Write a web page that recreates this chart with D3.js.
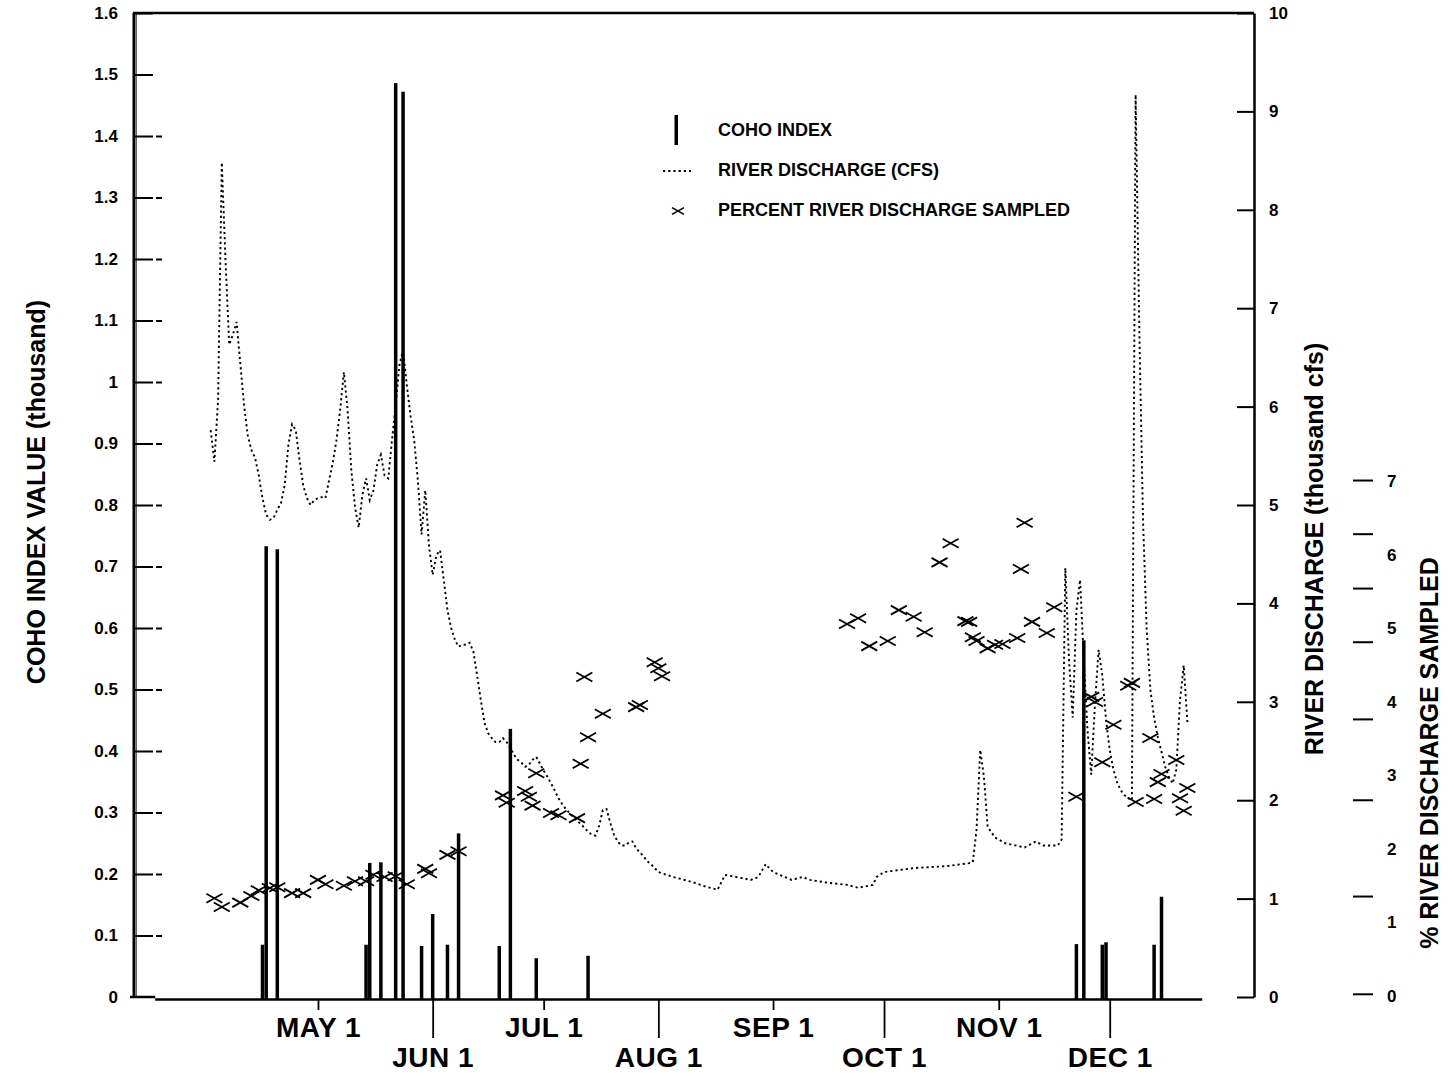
<!DOCTYPE html>
<html>
<head>
<meta charset="utf-8">
<script src="https://cdn.jsdelivr.net/npm/d3@7"></script>
<style>
  body { margin: 0; background: #fff; }
  svg { display: block; }
  text { font-family: "Liberation Sans", Arial, Helvetica, sans-serif; fill: #000; }
</style>
</head>
<body>
<svg id="chart" width="1454" height="1074"></svg>
<script>
// ---- data ----------------------------------------------------------------
// Coho index (thousand), one bar per sampling date (month-day)
const cohoDates = ["04-16","04-17","04-20","05-14","05-15","05-18","05-22","05-24","05-29","06-01",
  "06-05","06-08","06-19","06-22","06-29","07-13","11-22","11-24","11-29","11-30","12-13","12-15"];
const cohoValues = [0.085,0.733,0.728,0.085,0.218,0.219,1.486,1.472,0.083,0.135,
  0.085,0.266,0.083,0.436,0.063,0.067,0.086,0.58,0.085,0.089,0.085,0.163];

// River discharge (thousand cfs)
const flowDates = [
  "04-02","04-03","04-04","04-05","04-06","04-07","04-08","04-09","04-10","04-11","04-12","04-13","04-14","04-15",
  "04-16","04-17","04-18","04-19","04-20","04-21","04-22","04-23","04-24","04-25","04-26","04-27","04-28","04-29","04-30",
  "05-01","05-02","05-03","05-04","05-05","05-06","05-07","05-08","05-09","05-10","05-11","05-12","05-13","05-14","05-15",
  "05-16","05-17","05-18","05-19","05-20","05-21","05-22","05-23","05-24","05-25","05-26","05-27","05-28","05-29","05-30","05-31",
  "06-01","06-02","06-03","06-04","06-05","06-06","06-07","06-08","06-09","06-10","06-11","06-12","06-13","06-14","06-15",
  "06-16","06-17","06-18","06-19","06-20","06-21","06-22","06-23","06-24","06-25","06-26","06-27","06-28","06-29","06-30",
  "07-01","07-02","07-03","07-04","07-05","07-06","07-07","07-08","07-09","07-10","07-11","07-12","07-13","07-14","07-15",
  "07-16","07-17","07-18","07-19","07-20","07-21","07-22","07-23","07-24","07-25","07-26","07-27","07-28","07-29","07-30","07-31",
  "08-01","08-05","08-10","08-14","08-17","08-19","08-22","08-26","08-28","08-30",
  "09-01","09-06","09-09","09-11","09-16","09-21","09-24","09-28","09-29",
  "10-01","10-05","10-09","10-18","10-24","10-25","10-26","10-27","10-28","10-29","10-31",
  "11-03","11-08","11-11","11-13","11-17","11-18","11-19","11-20","11-21","11-22","11-23","11-24","11-25","11-26",
  "11-27","11-28","11-29","11-30","12-01","12-02","12-03","12-04","12-05","12-06","12-07","12-08","12-09","12-10",
  "12-11","12-12","12-13","12-14","12-15","12-16","12-17","12-18","12-19","12-20","12-21","12-22"];
const flowValues = [
  5.76,5.44,6.07,8.48,7.49,6.63,6.73,6.86,6.44,6.02,5.71,5.56,5.48,5.30,
  5.07,4.90,4.85,4.87,4.95,5.02,5.20,5.61,5.82,5.76,5.46,5.20,5.07,5.00,5.05,
  5.07,5.08,5.07,5.25,5.43,5.66,5.97,6.35,5.97,5.36,4.98,4.77,5.10,5.27,5.05,
  5.15,5.41,5.51,5.30,5.27,5.66,6.02,6.42,6.58,6.22,5.91,5.66,5.25,4.70,5.15,4.59,
  4.29,4.49,4.54,4.24,3.93,3.75,3.63,3.56,3.58,3.58,3.60,3.51,3.27,3.02,2.79,
  2.68,2.63,2.59,2.59,2.63,2.59,2.53,2.46,2.41,2.38,2.34,2.36,2.41,2.44,2.37,
  2.30,2.24,2.17,2.10,2.02,1.96,1.91,1.87,1.83,1.79,1.76,1.72,1.68,1.65,1.64,
  1.74,1.90,1.91,1.77,1.65,1.58,1.54,1.54,1.57,1.58,1.51,1.47,1.43,1.38,1.35,1.31,
  1.27,1.22,1.17,1.12,1.09,1.24,1.22,1.19,1.22,1.35,
  1.27,1.19,1.22,1.19,1.16,1.14,1.11,1.14,1.22,
  1.27,1.29,1.31,1.33,1.36,1.37,1.70,2.51,2.24,1.73,1.62,
  1.56,1.52,1.58,1.54,1.54,1.60,4.36,3.42,2.84,3.93,4.24,3.42,2.71,2.26,
  2.97,3.53,3.27,2.82,2.51,2.31,2.18,2.10,2.05,2.02,2.00,9.17,6.78,4.85,
  3.73,3.12,2.84,2.64,2.49,2.34,2.24,2.17,2.31,3.02,3.37,2.79];

// Percent of river discharge sampled
const sampledDates = [
  "04-03","04-05","04-10","04-13","04-15","04-18","04-20","04-24","04-27","05-01","05-03","05-08","05-11","05-14",
  "05-16","05-19","05-22","05-25","05-30","05-31","06-05","06-08","06-20","06-21","06-26","06-27","06-28","06-29",
  "07-03","07-05","07-10","07-11","07-12","07-13","07-17","07-26","07-27","07-31","08-01","08-02",
  "09-21","09-24","09-27","10-02","10-05","10-09","10-12","10-16","10-19","10-23","10-24","10-25","10-26","10-29",
  "10-31","11-02","11-06","11-07","11-08","11-10","11-14","11-16",
  "11-22","11-26","11-27","11-29","12-02","12-06","12-07","12-08","12-12","12-13","12-14","12-15","12-19","12-20",
  "12-21","12-22"];
const sampledValues = [
  1.33,1.21,1.27,1.36,1.44,1.47,1.48,1.40,1.40,1.58,1.52,1.50,1.56,1.56,
  1.65,1.62,1.63,1.52,1.73,1.67,1.92,1.97,2.73,2.63,2.79,2.71,2.59,3.03,
  2.49,2.46,2.42,3.16,4.34,3.52,3.84,3.93,3.96,4.54,4.46,4.35,
  5.06,5.14,4.76,4.83,5.25,5.16,4.95,5.90,6.16,5.10,5.09,4.88,4.83,4.73,
  4.78,4.79,4.87,5.81,6.44,5.09,4.94,5.29,
  2.71,4.07,4.00,3.18,3.69,4.22,4.26,2.64,3.51,2.68,2.91,3.02,3.21,2.69,
  2.52,2.83];

// Axis ticks and labels
const monthTickDates = ["05-01","06-01","07-01","08-01","09-01","10-01","11-01","12-01"];
const monthTickLabels = ["MAY 1","JUN 1","JUL 1","AUG 1","SEP 1","OCT 1","NOV 1","DEC 1"];
const cohoTicks = [0,0.1,0.2,0.3,0.4,0.5,0.6,0.7,0.8,0.9,1,1.1,1.2,1.3,1.4,1.5,1.6];
const flowTicks = [0,1,2,3,4,5,6,7,8,9,10];
const pctLabelValues = [0,1,2,3,4,5,6,7];
const pctTickMarks = [0.03,1.36,2.67,3.77,4.82,5.55,6.29,7.02];
const timeStart = "1990-03-12", timeEnd = "1991-01-09";
const baselineStart = "03-18", baselineEnd = "12-26";

// ---- scales ----------------------------------------------------------------
const parseFull = d3.timeParse("%Y-%m-%d");
const md = s => parseFull("1990-" + s);

const svg = d3.select("#chart");
const x = d3.scaleTime().domain([parseFull(timeStart), parseFull(timeEnd)]).range([133, 1254]);
const yCoho = d3.scaleLinear().domain([0, 1.6]).range([997, 13]);
const yFlow = d3.scaleLinear().domain([0, 10]).range([997, 13]);
const yPct = d3.scaleLinear().domain([0, 7]).range([996, 481.5]);

const ink = "#000";
const labelFont = "'Liberation Sans', Arial, sans-serif";

// ---- frame ---------------------------------------------------------------
const frame = svg.append("g").attr("stroke", ink).attr("fill", "none");
frame.append("line").attr("x1", 134).attr("x2", 134).attr("y1", yCoho(1.6)).attr("y2", yCoho(0)).attr("stroke-width", 3);
frame.append("line").attr("x1", 136.5).attr("x2", 136.5).attr("y1", yCoho(1.6)).attr("y2", yCoho(0)).attr("stroke-width", 1).attr("stroke", "#666");
frame.append("line").attr("x1", 133).attr("x2", 1254).attr("y1", yCoho(1.6)).attr("y2", yCoho(1.6)).attr("stroke-width", 2.5);
frame.append("line").attr("x1", 130).attr("x2", x(md(baselineStart))).attr("y1", yCoho(0)).attr("y2", yCoho(0)).attr("stroke-width", 2.5);
frame.append("line").attr("x1", x(md(baselineStart))).attr("x2", x(md(baselineEnd))).attr("y1", 999.5).attr("y2", 999.5).attr("stroke-width", 2.5);

// ---- left axis (coho index) ----------------------------------------------
const leftTicks = svg.append("g").attr("transform", "translate(135,0)")
  .call(d3.axisRight(yCoho).tickValues(cohoTicks.filter(v => v > 0)).tickSize(18).tickFormat(""));
leftTicks.select(".domain").remove();
leftTicks.selectAll("line").attr("stroke-width", 2);

const leftDashes = svg.append("g").attr("transform", "translate(156,0)")
  .call(d3.axisRight(yCoho).tickValues(cohoTicks.filter(v => v > 0 && v < 1.45)).tickSize(6).tickFormat(""));
leftDashes.select(".domain").remove();
leftDashes.selectAll("line").attr("stroke-width", 2);

const leftLabels = svg.append("g").attr("transform", "translate(118,0)")
  .call(d3.axisLeft(yCoho).tickValues(cohoTicks).tickSize(0).tickPadding(0).tickFormat(d => String(d)));
leftLabels.select(".domain").remove();
leftLabels.selectAll("text").attr("font-size", 17).attr("font-weight", "bold").attr("font-family", labelFont);

// ---- right axis (river discharge) ----------------------------------------
const rightAxis = svg.append("g").attr("transform", "translate(1254,0)")
  .call(d3.axisLeft(yFlow).tickValues(flowTicks).tickSize(17).tickSizeOuter(0).tickFormat(""));
rightAxis.select(".domain").attr("stroke-width", 2.5);
rightAxis.selectAll("line").attr("stroke-width", 2);

const rightLabels = svg.append("g").attr("transform", "translate(1269,0)")
  .call(d3.axisRight(yFlow).tickValues(flowTicks).tickSize(0).tickPadding(0).tickFormat(d => String(d)));
rightLabels.select(".domain").remove();
rightLabels.selectAll("text").attr("font-size", 17).attr("font-weight", "bold").attr("font-family", labelFont);

// ---- third axis (percent sampled) ----------------------------------------
const pctTicks = svg.append("g").attr("transform", "translate(1353,0)")
  .call(d3.axisRight(yPct).tickValues(pctTickMarks).tickSize(20).tickFormat(""));
pctTicks.select(".domain").remove();
pctTicks.selectAll("line").attr("stroke-width", 2);

const pctLabels = svg.append("g").attr("transform", "translate(1387,0)")
  .call(d3.axisRight(yPct).tickValues(pctLabelValues).tickSize(0).tickPadding(0).tickFormat(d => String(d)));
pctLabels.select(".domain").remove();
pctLabels.selectAll("text").attr("font-size", 17).attr("font-weight", "bold").attr("font-family", labelFont);

// ---- bottom axis (months, alternating rows) --------------------------------
const monthData = monthTickDates.map((d, i) => ({ date: md(d), label: monthTickLabels[i], row: i % 2 }));
function monthAxis(row, size, pad) {
  const sel = monthData.filter(m => m.row === row);
  const g = svg.append("g").attr("transform", "translate(0,1000)")
    .call(d3.axisBottom(x).tickValues(sel.map(m => m.date)).tickSize(size).tickPadding(pad)
      .tickFormat((d, i) => sel[i].label));
  g.select(".domain").remove();
  g.selectAll("line").attr("stroke-width", 1.8);
  g.selectAll("text").attr("font-size", 28).attr("font-weight", "bold").attr("letter-spacing", 0.5)
    .attr("font-family", labelFont);
}
monthAxis(0, 10, 7);
monthAxis(1, 38, 9);

// ---- coho bars ----------------------------------------------------------
const cohoData = cohoDates.map((d, i) => ({ date: md(d), v: cohoValues[i] }));
svg.append("g").selectAll("rect").data(cohoData).join("rect")
  .attr("x", d => x(d.date) - 1.75)
  .attr("width", 3.5)
  .attr("y", d => yCoho(d.v))
  .attr("height", d => 1000 - yCoho(d.v))
  .attr("fill", ink);

// ---- river discharge (dotted) ---------------------------------------------
const flowData = flowDates.map((d, i) => ({ date: md(d), v: flowValues[i] }));
svg.append("path").datum(flowData)
  .attr("d", d3.line().x(d => x(d.date)).y(d => yFlow(d.v)))
  .attr("fill", "none").attr("stroke", ink).attr("stroke-width", 1.9)
  .attr("stroke-dasharray", "2.2 3");

// ---- percent sampled (x marks) -------------------------------------------
const xMark = "M-8,-4.5L8,4.5M-8,4.5L8,-4.5";
const sampledData = sampledDates.map((d, i) => ({ date: md(d), v: sampledValues[i] }));
svg.append("g").selectAll("path").data(sampledData).join("path")
  .attr("transform", d => `translate(${x(d.date)},${yPct(d.v)})`)
  .attr("d", xMark)
  .attr("fill", "none").attr("stroke", ink).attr("stroke-width", 1.8);

// ---- legend ---------------------------------------------------------------
const legend = svg.append("g");
legend.append("rect").attr("x", 674.5).attr("y", 115).attr("width", 3.5).attr("height", 30).attr("fill", ink);
legend.append("line").attr("x1", 663).attr("x2", 691).attr("y1", 171).attr("y2", 171)
  .attr("stroke", ink).attr("stroke-width", 1.9).attr("stroke-dasharray", "2.2 3");
legend.append("path").attr("transform", "translate(678,211) scale(0.75)").attr("d", xMark)
  .attr("fill", "none").attr("stroke", ink).attr("stroke-width", 2.2);
const legendItems = [["COHO INDEX", 130], ["RIVER DISCHARGE (CFS)", 170], ["PERCENT RIVER DISCHARGE SAMPLED", 210]];
legend.selectAll("text.item").data(legendItems).join("text").attr("class", "item")
  .attr("x", 718).attr("y", d => d[1]).attr("dominant-baseline", "central")
  .attr("font-size", 18).attr("font-weight", "bold").text(d => d[0]);

// ---- axis titles ------------------------------------------------------------
function vTitle(txt, cx, cy) {
  svg.append("text").attr("transform", `translate(${cx},${cy}) rotate(-90)`)
    .attr("text-anchor", "middle").attr("dominant-baseline", "central")
    .attr("font-size", 25).attr("font-weight", "bold").text(txt);
}
vTitle("COHO INDEX VALUE (thousand)", 36, 492);
vTitle("RIVER DISCHARGE (thousand cfs)", 1314, 549);
vTitle("% RIVER DISCHARGE SAMPLED", 1429, 753);
</script>
</body>
</html>
